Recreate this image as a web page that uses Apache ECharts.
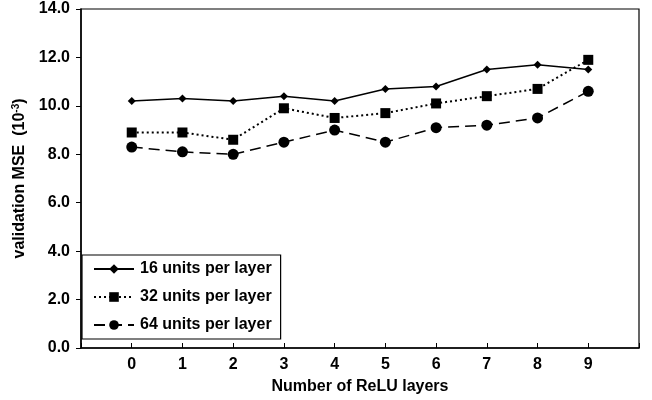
<!DOCTYPE html>
<html>
<head>
<meta charset="utf-8">
<script src="https://cdn.jsdelivr.net/npm/echarts@6/dist/echarts.min.js"></script>
<style>
  html, body { margin: 0; padding: 0; background: #fff; }
  #chart { width: 652px; height: 400px; }
</style>
</head>
<body>
<div id="chart"></div>
<script>
const layers = [0, 1, 2, 3, 4, 5, 6, 7, 8, 9];
const units16 = [10.2, 10.3, 10.2, 10.4, 10.2, 10.7, 10.8, 11.5, 11.7, 11.5];
const units32 = [8.9, 8.9, 8.6, 9.9, 9.5, 9.7, 10.1, 10.4, 10.7, 11.9];
const units64 = [8.3, 8.1, 8.0, 8.5, 9.0, 8.5, 9.1, 9.2, 9.5, 10.6];
const seriesNames = ['16 units per layer', '32 units per layer', '64 units per layer'];

const font = 'Liberation Sans, Arial, sans-serif';
const pairs = arr => layers.map((x, i) => [x, arr[i]]);

let chart = echarts.init(document.getElementById('chart'));
let option = {
  animation: false,
  grid: {
    left: 81, top: 9, right: 13, bottom: 52,
    show: true, borderColor: '#000', borderWidth: 1.2
  },
  legend: {
    orient: 'vertical',
    left: 82, top: 255,
    itemWidth: 40, itemHeight: 12, itemGap: 12,
    padding: [6, 9, 6, 11],
    borderColor: '#000', borderWidth: 1.2,
    backgroundColor: '#fff',
    textStyle: { fontFamily: font, fontWeight: 'bold', fontSize: 16, color: '#000', padding: [0, 0, 0, 1] },
    data: seriesNames
  },
  xAxis: {
    type: 'value', min: -1, max: 10, interval: 1,
    name: 'Number of ReLU layers',
    nameLocation: 'middle', nameGap: 31,
    nameTextStyle: { fontFamily: font, fontWeight: 'bold', fontSize: 16, color: '#000' },
    axisLine: { lineStyle: { color: '#000', width: 1.5 } },
    axisTick: { inside: true, length: 5, lineStyle: { color: '#000' } },
    splitLine: { show: false },
    axisLabel: {
      fontFamily: font, fontWeight: 'bold', fontSize: 16, color: '#000', margin: 9,
      formatter: v => (v < 0 || v > 9) ? '' : String(v)
    }
  },
  yAxis: {
    type: 'value', min: 0, max: 14, interval: 2,
    name: '{a|validation MSE  (10}{s|-3}{a|)}',
    nameLocation: 'middle', nameGap: 53,
    nameTextStyle: {
      rich: {
        a: { fontFamily: font, fontWeight: 'bold', fontSize: 16, color: '#000' },
        s: { fontFamily: font, fontWeight: 'bold', fontSize: 10, color: '#000', verticalAlign: 'top', padding: [0, 0, 7, 0] }
      }
    },
    axisLine: { show: true, onZero: false, lineStyle: { color: '#000', width: 1.5 } },
    axisTick: { show: true, inside: false, length: 5, lineStyle: { color: '#000' } },
    splitLine: { show: false },
    axisLabel: {
      fontFamily: font, fontWeight: 'bold', fontSize: 16, color: '#000', margin: 11,
      formatter: v => v.toFixed(1)
    }
  },
  series: [
    {
      name: seriesNames[0], type: 'line', data: pairs(units16),
      symbol: 'diamond', symbolSize: 8,
      itemStyle: { color: '#000' },
      lineStyle: { color: '#000', width: 1.5, type: 'solid' }
    },
    {
      name: seriesNames[1], type: 'line', data: pairs(units32),
      symbol: 'rect', symbolSize: 10,
      itemStyle: { color: '#000' },
      lineStyle: { color: '#000', width: 2, type: [2, 3] }
    },
    {
      name: seriesNames[2], type: 'line', data: pairs(units64),
      symbol: 'circle', symbolSize: 11,
      itemStyle: { color: '#000' },
      lineStyle: { color: '#000', width: 1.5, type: [11, 6] }
    }
  ]
};
chart.setOption(option);
</script>
</body>
</html>
